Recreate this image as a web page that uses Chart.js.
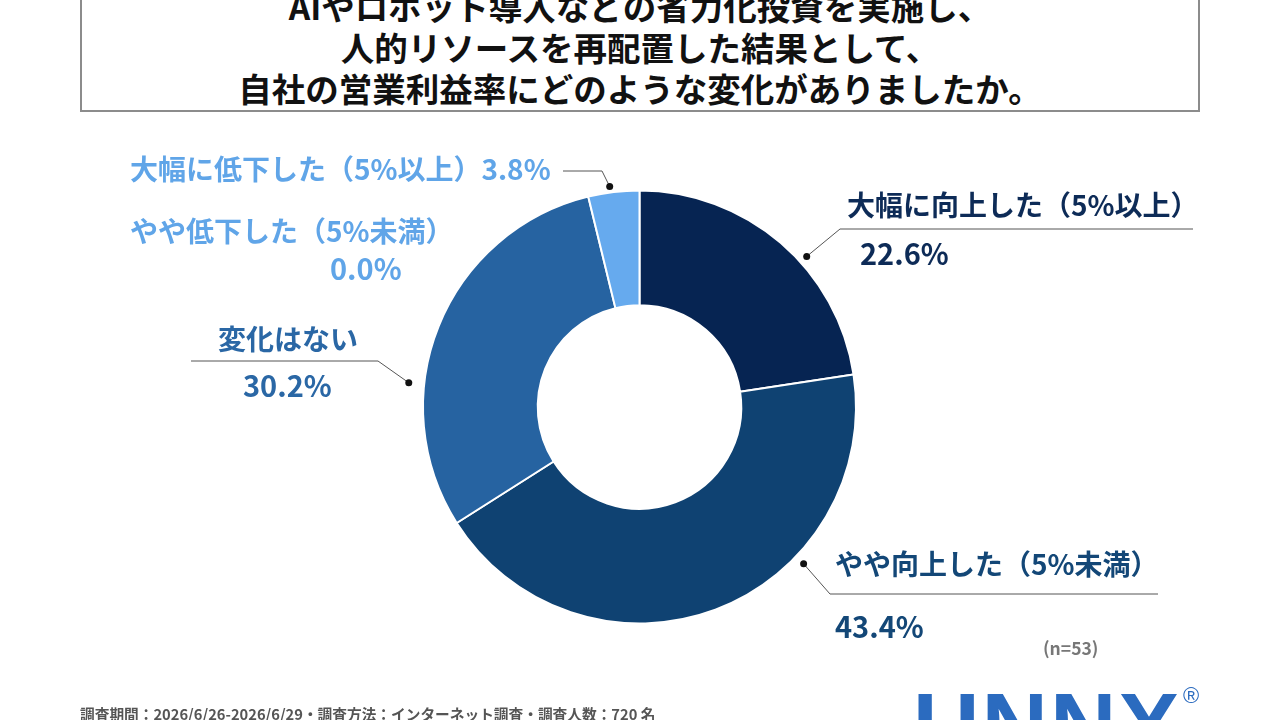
<!DOCTYPE html>
<html lang="ja">
<head>
<meta charset="utf-8">
<script src="https://cdn.jsdelivr.net/npm/chart.js@4.4.1/dist/chart.umd.min.js"></script>
<style>
  html, body { margin:0; padding:0; background:#fff; }
  body { width:1280px; height:720px; position:relative; overflow:hidden;
         font-family:"Noto Sans CJK JP","Noto Sans",sans-serif; }
  #c { position:absolute; left:0; top:0; }
  .box { position:absolute; left:80px; top:-12px; width:1120px; height:124px;
         border:2px solid #8c8c8c; box-sizing:border-box; }
  .tl { position:absolute; left:0; width:1280px; text-align:center; font-weight:700;
        font-size:33.5px; color:#111; height:40px; line-height:40px; white-space:nowrap; }
  .lb { position:absolute; font-weight:700; white-space:nowrap; height:40px; line-height:40px; }
  .foot { position:absolute; left:80px; top:704px; font-size:14.7px; font-weight:700; color:#555;
          height:20px; line-height:20px; white-space:nowrap; }
  .n { position:absolute; left:1043px; top:638px; font-size:17.5px; font-weight:700; color:#777;
       height:20px; line-height:20px; }
  .logo { position:absolute; left:913px; top:676px; font-family:"Liberation Sans",sans-serif;
          font-weight:700; font-size:92px; color:#2b6bbf; line-height:100px; letter-spacing:2px; }
  .reg { position:absolute; left:1183px; top:684px; font-family:"Liberation Sans",sans-serif;
         font-size:22px; color:#2b6bbf; line-height:24px; }
</style>
</head>
<body>
<div class="box"></div>
<div id="titles"></div>
<canvas id="c" width="1280" height="720"></canvas>
<div id="labels"></div>
<div class="n">(n=53)</div>
<div class="foot">調査期間：2026/6/26-2026/6/29・調査方法：インターネット調査・調査人数：720 名</div>
<div class="logo">UNNX</div>
<div class="reg">®</div>
<script>
const titleLines = [
  "AIやロボット導入などの省力化投資を実施し、",
  "人的リソースを再配置した結果として、",
  "自社の営業利益率にどのような変化がありましたか。"
];
const categories = [
  "大幅に向上した（5%以上）",
  "やや向上した（5%未満）",
  "変化はない",
  "やや低下した（5%未満）",
  "大幅に低下した（5%以上）"
];
const values = [22.6, 43.4, 30.2, 0.0, 3.8];
const sliceColors = ["#062452", "#0f4272", "#2663a1", "#3f86cf", "#66aaee"];
const textColors = ["#0d2b57", "#134777", "#2a67a5", "#60a5e8", "#60a5e8"];

// title
const tWrap = document.getElementById('titles');
const titleY = [6, 47, 88];
titleLines.forEach((t, i) => {
  const d = document.createElement('div');
  d.className = 'tl'; d.textContent = t; d.style.top = (titleY[i] - 20) + 'px';
  tWrap.appendChild(d);
});

// label layout (text positions)
const labelLayout = [
  { i:0, name:[847,204], pct:[860,252] },
  { i:1, name:[835,563], pct:[835,625] },
  { i:2, name:[218,338], pct:[243,384] },
  { i:3, name:[130,230], pct:[330,267] },
  { i:4, name:[130,168], pct:null }
];
const fmt = v => v.toFixed(1) + '%';
const lWrap = document.getElementById('labels');
function addLabel(text, x, cy, color, size) {
  const d = document.createElement('div');
  d.className = 'lb'; d.textContent = text;
  d.style.left = x + 'px'; d.style.top = (cy - 20) + 'px';
  d.style.color = color; d.style.fontSize = size + 'px';
  lWrap.appendChild(d);
}
labelLayout.forEach(L => {
  const c = textColors[L.i];
  if (L.pct) {
    addLabel(categories[L.i], L.name[0], L.name[1], c, 28);
    addLabel(fmt(values[L.i]), L.pct[0], L.pct[1], c, 29);
  } else {
    addLabel(categories[L.i] + fmt(values[L.i]), L.name[0], L.name[1], c, 28);
  }
});

// leader lines: dot anchored on arc (angle clockwise from top, gap beyond outer radius)
const leaders = [
  { i:0, ang:48.0, gap:8.5, elbow:[840,229], end:[1193,229] },
  { i:1, ang:133.7, gap:10.5, elbow:[830,594], end:[1158,594] },
  { i:2, ang:276.0, gap:15.5, elbow:[378,361], end:[191,361] },
  { i:4, ang:352.3, gap:6, elbow:[602,171], end:[563,171] }
];
const leaderPlugin = {
  id: 'leaders',
  afterDraw(chart) {
    const ctx = chart.ctx;
    const arc = chart.getDatasetMeta(0).data[0];
    const cx = arc.x, cy = arc.y, R = arc.outerRadius;
    ctx.save();
    leaders.forEach(l => {
      const a = l.ang * Math.PI / 180;
      const r = R + l.gap;
      const px = cx + r * Math.sin(a), py = cy - r * Math.cos(a);
      ctx.strokeStyle = '#555'; ctx.lineWidth = 1;
      ctx.beginPath();
      ctx.moveTo(px, py); ctx.lineTo(l.elbow[0], l.elbow[1]); ctx.lineTo(l.end[0], l.end[1]);
      ctx.stroke();
      ctx.fillStyle = '#111';
      ctx.beginPath(); ctx.arc(px, py, 3.5, 0, Math.PI * 2); ctx.fill();
    });
    ctx.restore();
  }
};

new Chart(document.getElementById('c'), {
  type: 'doughnut',
  data: {
    labels: categories,
    datasets: [{
      data: values,
      backgroundColor: sliceColors,
      borderColor: '#ffffff',
      borderWidth: 2
    }]
  },
  options: {
    responsive: false,
    animation: false,
    cutout: '47%',
    layout: { padding: { left: 422, right: 423, top: 189, bottom: 95 } },
    plugins: { legend: { display: false }, tooltip: { enabled: false } }
  },
  plugins: [leaderPlugin]
});
</script>
</body>
</html>
